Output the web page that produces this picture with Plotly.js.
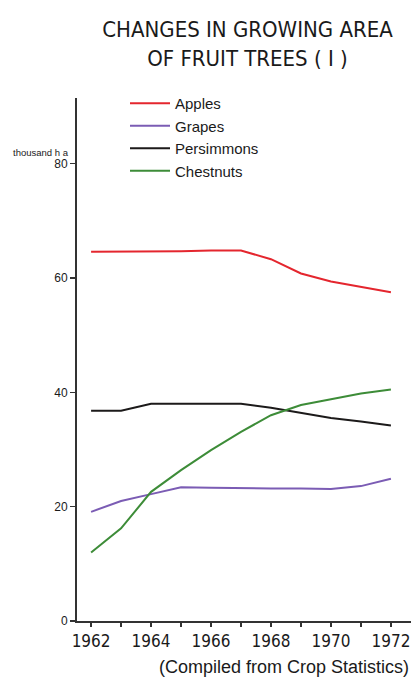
<!DOCTYPE html>
<html>
<head>
<meta charset="utf-8">
<script src="https://cdn.plot.ly/plotly-3.0.1.min.js"></script>
<style>
html,body{margin:0;padding:0;background:#fff;}
#chart{width:411px;height:680px;}
</style>
</head>
<body>
<div id="chart"></div>
<script>
const years = [1962, 1963, 1964, 1965, 1966, 1967, 1968, 1969, 1970, 1971, 1972];
const apples = [64.6, 64.6, 64.7, 64.7, 64.8, 64.8, 63.3, 60.8, 59.4, 58.5, 57.5];
const grapes = [19.1, 21.0, 22.2, 23.4, 23.3, 23.2, 23.2, 23.2, 23.1, 23.6, 24.9];
const persimmons = [36.8, 36.8, 38.0, 38.0, 38.0, 38.0, 37.3, 36.4, 35.5, 34.9, 34.2];
const chestnuts = [12.0, 16.2, 22.6, 26.4, 29.9, 33.1, 36.0, 37.8, 38.8, 39.8, 40.5];
const seriesNames = ["Apples", "Grapes", "Persimmons", "Chestnuts"];
const xTickVals = years;
const xTickText = ["1962", "", "1964", "", "1966", "", "1968", "", "1970", "", "1972"];
const yTickVals = [0, 20, 40, 60, 80];

const narrow = "Liberation Sans Narrow, DejaVu Sans Condensed, Arial Narrow, sans-serif";
const sans = "Liberation Sans, Arial, sans-serif";
const colors = ["#e4262e", "#7b5cb4", "#1c1a1a", "#3d8c38"];
const values = [apples, grapes, persimmons, chestnuts];

const traces = values.map((v, i) => ({
  x: years, y: v, name: seriesNames[i], type: "scatter", mode: "lines",
  line: {color: colors[i], width: 2}
}));

const layout = {
  width: 411, height: 680,
  margin: {l: 77, r: 0, t: 98, b: 59},
  paper_bgcolor: "#fff", plot_bgcolor: "#fff",
  title: {
    text: "CHANGES IN GROWING AREA<br>OF FRUIT TREES ( I )",
    font: {family: narrow, size: 22, color: "#1a1a1a"},
    x: 247.5/411, xanchor: "center", xref: "container",
    y: 1 - 37/680, yanchor: "top", yref: "container"
  },
  showlegend: true,
  legend: {
    x: (125 - 77)/334, xanchor: "left", y: 1 + 11/523, yanchor: "top",
    font: {family: sans, size: 15, color: "#1a1a1a"},
    bgcolor: "rgba(0,0,0,0)", itemwidth: 40, tracegroupgap: 0
  },
  xaxis: {
    range: [1961.53, 1972.67],
    tickvals: xTickVals, ticktext: xTickText,
    ticks: "outside", ticklen: 4, tickwidth: 1.5, tickcolor: "#333",
    showline: true, linecolor: "#333", linewidth: 2,
    showgrid: false, zeroline: false,
    tickfont: {family: narrow, size: 17, color: "#1a1a1a"}
  },
  yaxis: {
    range: [0, 91.5],
    tickvals: yTickVals,
    ticks: "outside", ticklen: 5, tickwidth: 1.5, tickcolor: "#333",
    showline: true, linecolor: "#333", linewidth: 2,
    showgrid: false, zeroline: false,
    tickfont: {family: sans, size: 12, color: "#1a1a1a"}
  },
  annotations: [
    {text: "thousand h a", xref: "paper", yref: "paper",
     x: (11 - 77)/334, xanchor: "left", y: (621 - 152)/523, yanchor: "middle",
     showarrow: false, font: {family: sans, size: 9.5, color: "#1a1a1a"}},
    {text: "(Compiled from Crop Statistics)", xref: "paper", yref: "paper",
     x: 1, xanchor: "right", y: (621 - 667)/523, yanchor: "middle",
     showarrow: false, font: {family: sans, size: 18, color: "#1a1a1a"}}
  ]
};

Plotly.newPlot("chart", traces, layout, {displayModeBar: false, staticPlot: true});
</script>
</body>
</html>
